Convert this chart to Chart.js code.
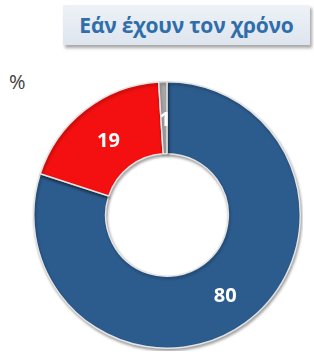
<!DOCTYPE html>
<html>
<head>
<meta charset="utf-8">
<script src="https://cdn.jsdelivr.net/npm/chart.js@4"></script>
<style>
  body { margin:0; background:#fff; width:314px; height:352px; overflow:hidden; position:relative; font-family:"Open Sans", sans-serif; }
  #title { position:absolute; left:63px; top:5px; width:247px; height:40px; box-sizing:border-box;
    background:linear-gradient(#eef2f7,#dee5ee); box-shadow:2px 3px 3px rgba(0,0,0,0.35);
    color:#2f6eaa; font-weight:bold; font-size:21px; line-height:40px; text-align:center; letter-spacing:-0.2px; }
  #pct { position:absolute; left:9px; top:68px; font-size:20px; color:#404040; }
  #wrap { position:absolute; left:31px; top:79px; width:272px; height:272px; }
</style>
</head>
<body>
<div id="title">Εάν έχουν τον χρόνο</div>
<div id="pct">%</div>
<div id="wrap"><canvas id="myChart"></canvas></div>
<script>
var labels = ["Ναι", "Όχι", "ΔΞ/ΔΑ"];
var values = [80, 19, 1];
var sliceColors = ["#2c5c8e", "#f41010", "#a8a8a8"];

// soft shadow under the ring, a bit like the office 3d look
var ringShadow = {
  id: "ringShadow",
  beforeDatasetsDraw: function (chart) {
    var ctx = chart.ctx;
    ctx.save();
    ctx.shadowColor = "rgba(0,0,0,0.35)";
    ctx.shadowBlur = 3;
    ctx.shadowOffsetX = 1;
    ctx.shadowOffsetY = 2;
  },
  afterDatasetsDraw: function (chart) {
    chart.ctx.restore();
  }
};

var sliceLabels = {
  id: "sliceLabels",
  afterDatasetsDraw: function (chart) {
    var ctx = chart.ctx;
    var meta = chart.getDatasetMeta(0);
    ctx.save();
    ctx.fillStyle = "#fff";
    ctx.font = "bold 20px 'Open Sans', sans-serif";
    ctx.textAlign = "center";
    ctx.textBaseline = "middle";
    meta.data.forEach(function (arc, i) {
      var p = arc.tooltipPosition();
      ctx.fillText(values[i], p.x + 1, p.y + 3);
    });
    ctx.restore();
  }
};

var c = new Chart("myChart", {
  type: "doughnut",
  data: {
    labels: labels,
    datasets: [{
      data: values,
      backgroundColor: sliceColors,
      borderColor: "#e4e4e4",
      borderWidth: 1.5
    }]
  },
  options: {
    responsive: true,
    maintainAspectRatio: false,
    animation: false,
    cutout: "46%",
    layout: { padding: 2 },
    plugins: {
      legend: { display: false },
      tooltip: { enabled: false },
      title: { display: false }
    }
  },
  plugins: [ringShadow, sliceLabels]
});
</script>
</body>
</html>
